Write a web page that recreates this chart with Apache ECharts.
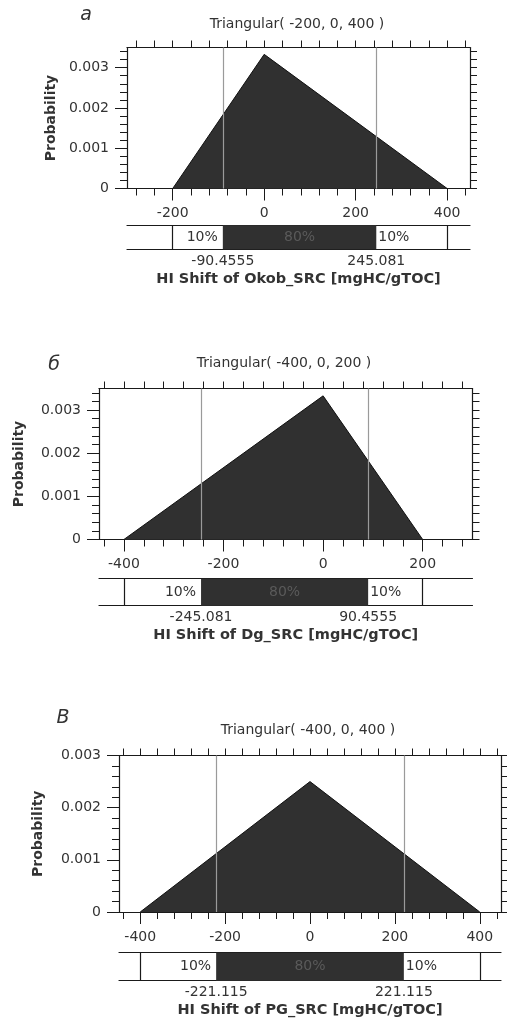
<!DOCTYPE html>
<html>
<head>
<meta charset="utf-8">
<script src="https://cdn.jsdelivr.net/npm/echarts@6/dist/echarts.min.js"></script>
<style>
  html, body { margin: 0; padding: 0; background: #fff; }
  #chart { width: 507px; height: 1021px; }
</style>
</head>
<body>
<div id="chart"></div>
<script>
(function() {
  // --- data ---
  var panelLetters = ['а', 'б', 'В'];
  var panelTitles = ['Triangular( -200, 0, 400 )', 'Triangular( -400, 0, 200 )', 'Triangular( -400, 0, 400 )'];
  var axisNames = ['HI Shift of Okob_SRC [mgHC/gTOC]', 'HI Shift of Dg_SRC [mgHC/gTOC]', 'HI Shift of PG_SRC [mgHC/gTOC]'];
  var triX = [[-200, 0, 400], [-400, 0, 200], [-400, 0, 400]];
  var triY = [[0, 0.00333, 0], [0, 0.00333, 0], [0, 0.0025, 0]];
  var p10 = [-90.4555, -245.081, -221.115];
  var p90 = [245.081, 90.4555, 221.115];
  var bandLabels = ['10%', '80%', '10%'];
  var xTickLabels = [[-200, 0, 200, 400], [-400, -200, 0, 200], [-400, -200, 0, 200, 400]];
  var yTickLabels = [0, 0.001, 0.002, 0.003];
  var xExtent = [[-300, 450], [-450, 300], [-450, 450]];
  var yMax = [0.0035, 0.0035, 0.003];

  // --- layout ---
  var layout = [
    { grid: { left: 127, top: 47.5, width: 343, height: 141 }, strip: { top: 225.3, height: 24 },
      title: [297, 24], letter: [86, 15], nameGap: 63 },
    { grid: { left: 99, top: 388.5, width: 373.5, height: 151 }, strip: { top: 578.7, height: 27 },
      title: [284, 363], letter: [54, 365], nameGap: 73 },
    { grid: { left: 119, top: 755.5, width: 382, height: 156.5 }, strip: { top: 952.7, height: 28 },
      title: [308, 730], letter: [63, 718], nameGap: 74 }
  ];

  var font = 'DejaVu Sans';
  var ink = '#1a1a1a';
  var text = '#333';
  var fill = '#303030';

  function steps(lo, hi, step) {
    var out = [];
    for (var v = Math.ceil(lo / step - 1e-9) * step; v <= hi + 1e-12; v += step) out.push(+v.toFixed(6));
    return out;
  }

  var line = { show: true, onZero: false, lineStyle: { color: ink, width: 1.2 } };
  var noLine = { show: false, onZero: false };
  var label = { color: text, fontSize: 14, fontFamily: font };

  var grids = [], xAxes = [], yAxes = [], series = [], graphic = [];

  for (var i = 0; i < 3; i++) {
    var L = layout[i];
    var g = 2 * i;
    grids.push(L.grid);
    grids.push({ left: L.grid.left, width: L.grid.width, top: L.strip.top, height: L.strip.height });

    var xMinor = steps(xExtent[i][0], xExtent[i][1], 40);
    var yMinor = steps(0, yMax[i], 0.0002);
    var xr = { type: 'value', min: xExtent[i][0], max: xExtent[i][1], splitLine: { show: false } };
    var yr = { type: 'value', min: 0, max: yMax[i], splitLine: { show: false } };

    // x axes: main bottom, minor bottom, top, strip bottom, strip top
    xAxes.push(Object.assign({}, xr, {
      gridIndex: g, position: 'bottom', axisLine: line,
      axisTick: { show: true, customValues: xTickLabels[i], length: 12, lineStyle: { color: ink } },
      axisLabel: Object.assign({ customValues: xTickLabels[i], margin: 18 }, label)
    }));
    xAxes.push(Object.assign({}, xr, {
      gridIndex: g, position: 'bottom', axisLine: noLine,
      axisTick: { show: true, customValues: xMinor, length: 7, lineStyle: { color: ink } },
      axisLabel: { show: false }
    }));
    xAxes.push(Object.assign({}, xr, {
      gridIndex: g, position: 'top', axisLine: line,
      axisTick: { show: true, customValues: xMinor, length: 7, lineStyle: { color: ink } },
      axisLabel: { show: false }
    }));
    xAxes.push(Object.assign({}, xr, {
      gridIndex: g + 1, position: 'bottom', axisLine: line,
      axisTick: { show: false },
      axisLabel: Object.assign({ customValues: [p10[i], p90[i]], margin: 5, formatter: function(v) { return String(v); } }, label),
      name: axisNames[i], nameLocation: 'middle', nameGap: 22,
      nameTextStyle: { color: text, fontSize: 14.5, fontWeight: 'bold', fontFamily: font }
    }));
    xAxes.push(Object.assign({}, xr, {
      gridIndex: g + 1, position: 'top', axisLine: line, axisTick: { show: false }, axisLabel: { show: false }
    }));

    // y axes: main left, minor left, right, strip
    yAxes.push(Object.assign({}, yr, {
      gridIndex: g, position: 'left', axisLine: line,
      axisTick: { show: true, customValues: yTickLabels, length: 12, lineStyle: { color: ink } },
      axisLabel: Object.assign({ customValues: yTickLabels, margin: 18,
        formatter: function(v) { return v === 0 ? '0' : v.toFixed(3); } }, label),
      name: 'Probability', nameLocation: 'middle', nameRotate: 90, nameGap: L.nameGap,
      nameTextStyle: { color: text, fontSize: 14, fontWeight: 'bold', fontFamily: font }
    }));
    yAxes.push(Object.assign({}, yr, {
      gridIndex: g, position: 'left', axisLine: noLine,
      axisTick: { show: true, customValues: yMinor, length: 7, lineStyle: { color: ink } },
      axisLabel: { show: false }
    }));
    yAxes.push(Object.assign({}, yr, {
      gridIndex: g, position: 'right', axisLine: line,
      axisTick: { show: true, customValues: yMinor, length: 7, lineStyle: { color: ink } },
      axisLabel: { show: false }
    }));
    yAxes.push({ type: 'value', gridIndex: g + 1, min: 0, max: 1, show: false });

    series.push({
      type: 'line', xAxisIndex: 5 * i, yAxisIndex: 4 * i,
      data: triX[i].map(function(x, k) { return [x, triY[i][k]]; }),
      symbol: 'none', lineStyle: { color: '#111', width: 1 },
      areaStyle: { color: fill, opacity: 1 },
      markLine: {
        silent: true, symbol: ['none', 'none'], label: { show: false },
        lineStyle: { color: '#9a9a9a', type: 'solid', width: 1.2 },
        data: [{ xAxis: p10[i] }, { xAxis: p90[i] }]
      }
    });

    series.push({
      type: 'line', xAxisIndex: 5 * i + 3, yAxisIndex: 4 * i + 3,
      data: [[triX[i][0], 0.5]], symbol: 'none', showSymbol: false, lineStyle: { width: 0 },
      markArea: {
        silent: true,
        data: [
          [{ xAxis: triX[i][0], itemStyle: { color: 'rgba(0,0,0,0)' },
             label: { show: true, position: 'insideRight', distance: 5, color: text, fontSize: 14, fontFamily: font }, name: bandLabels[0] },
           { xAxis: p10[i] }],
          [{ xAxis: p10[i], itemStyle: { color: fill },
             label: { show: true, position: 'inside', color: '#5a5a5a', fontSize: 14, fontFamily: font }, name: bandLabels[1] },
           { xAxis: p90[i] }],
          [{ xAxis: p90[i], itemStyle: { color: 'rgba(0,0,0,0)' },
             label: { show: true, position: 'insideLeft', distance: 2, color: text, fontSize: 14, fontFamily: font }, name: bandLabels[2] },
           { xAxis: triX[i][2] }]
        ]
      },
      markLine: {
        silent: true, symbol: ['none', 'none'], label: { show: false },
        lineStyle: { color: ink, type: 'solid', width: 1.2 },
        data: [{ xAxis: triX[i][0] }, { xAxis: triX[i][2] }]
      }
    });

    graphic.push({ type: 'text', x: L.title[0], y: L.title[1],
      style: { text: panelTitles[i], fill: text, fontSize: 14, fontFamily: font, align: 'center', verticalAlign: 'middle' } });
    graphic.push({ type: 'text', x: L.letter[0], y: L.letter[1],
      style: { text: panelLetters[i], fill: text, fontSize: 19, fontStyle: 'italic', fontFamily: font, align: 'center', verticalAlign: 'middle' } });
  }

  var chart = echarts.init(document.getElementById('chart'), null, { renderer: 'canvas' });
  chart.setOption({
    animation: false,
    backgroundColor: '#fff',
    grid: grids,
    xAxis: xAxes,
    yAxis: yAxes,
    series: series,
    graphic: graphic
  });
  window.addEventListener('resize', function() { chart.resize(); });
})();
</script>
</body>
</html>
